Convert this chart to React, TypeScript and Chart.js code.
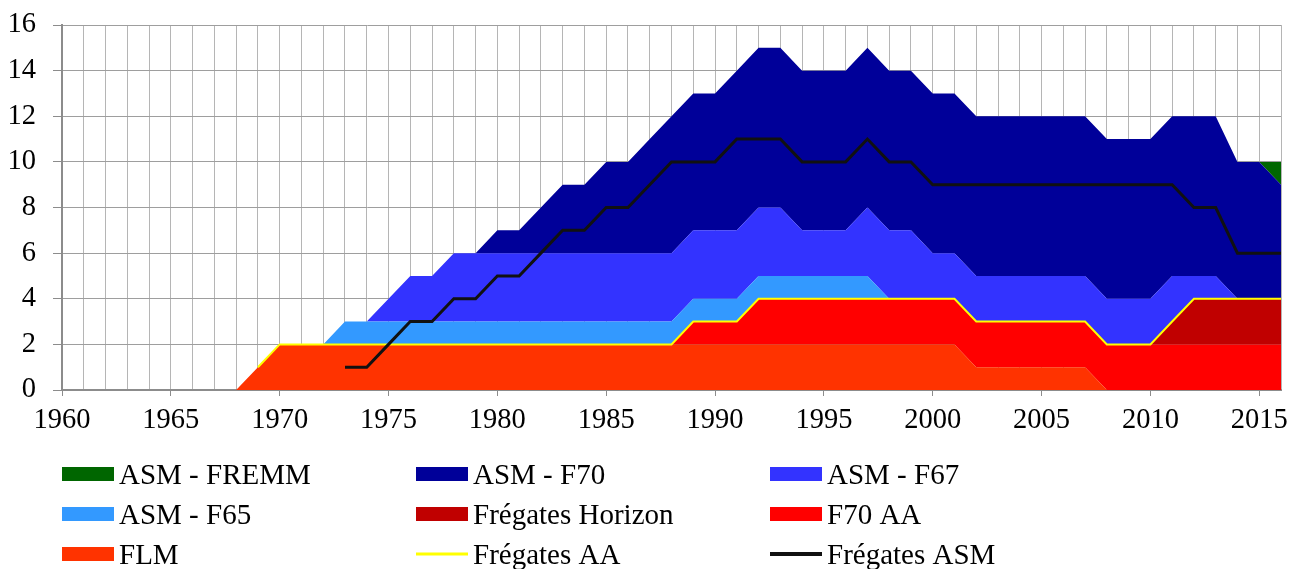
import React, { useEffect, useRef } from 'react';
import { Chart, registerables } from 'chart.js';

Chart.register(...registerables);

const years = [
  '1960', '1961', '1962', '1963', '1964', '1965', '1966', '1967', '1968', '1969',
  '1970', '1971', '1972', '1973', '1974', '1975', '1976', '1977', '1978', '1979',
  '1980', '1981', '1982', '1983', '1984', '1985', '1986', '1987', '1988', '1989',
  '1990', '1991', '1992', '1993', '1994', '1995', '1996', '1997', '1998', '1999',
  '2000', '2001', '2002', '2003', '2004', '2005', '2006', '2007', '2008', '2009',
  '2010', '2011', '2012', '2013', '2014', '2015', '2016',
];

const flm = [
  0, 0, 0, 0, 0, 0, 0, 0, 0, 1,
  2, 2, 2, 2, 2, 2, 2, 2, 2, 2,
  2, 2, 2, 2, 2, 2, 2, 2, 2, 2,
  2, 2, 2, 2, 2, 2, 2, 2, 2, 2,
  2, 2, 1, 1, 1, 1, 1, 1, 0, 0,
  0, 0, 0, 0, 0, 0, 0,
];

const f70AA = [
  0, 0, 0, 0, 0, 0, 0, 0, 0, 0,
  0, 0, 0, 0, 0, 0, 0, 0, 0, 0,
  0, 0, 0, 0, 0, 0, 0, 0, 0, 1,
  1, 1, 2, 2, 2, 2, 2, 2, 2, 2,
  2, 2, 2, 2, 2, 2, 2, 2, 2, 2,
  2, 2, 2, 2, 2, 2, 2,
];

const horizon = [
  0, 0, 0, 0, 0, 0, 0, 0, 0, 0,
  0, 0, 0, 0, 0, 0, 0, 0, 0, 0,
  0, 0, 0, 0, 0, 0, 0, 0, 0, 0,
  0, 0, 0, 0, 0, 0, 0, 0, 0, 0,
  0, 0, 0, 0, 0, 0, 0, 0, 0, 0,
  0, 1, 2, 2, 2, 2, 2,
];

const asmF65 = [
  0, 0, 0, 0, 0, 0, 0, 0, 0, 0,
  0, 0, 0, 1, 1, 1, 1, 1, 1, 1,
  1, 1, 1, 1, 1, 1, 1, 1, 1, 1,
  1, 1, 1, 1, 1, 1, 1, 1, 0, 0,
  0, 0, 0, 0, 0, 0, 0, 0, 0, 0,
  0, 0, 0, 0, 0, 0, 0,
];

const asmF67 = [
  0, 0, 0, 0, 0, 0, 0, 0, 0, 0,
  0, 0, 0, 0, 0, 1, 2, 2, 3, 3,
  3, 3, 3, 3, 3, 3, 3, 3, 3, 3,
  3, 3, 3, 3, 2, 2, 2, 3, 3, 3,
  2, 2, 2, 2, 2, 2, 2, 2, 2, 2,
  2, 2, 1, 1, 0, 0, 0,
];

const asmF70 = [
  0, 0, 0, 0, 0, 0, 0, 0, 0, 0,
  0, 0, 0, 0, 0, 0, 0, 0, 0, 0,
  1, 1, 2, 3, 3, 4, 4, 5, 6, 6,
  6, 7, 7, 7, 7, 7, 7, 7, 7, 7,
  7, 7, 7, 7, 7, 7, 7, 7, 7, 7,
  7, 7, 7, 7, 6, 6, 5,
];

const asmFremm = [
  0, 0, 0, 0, 0, 0, 0, 0, 0, 0,
  0, 0, 0, 0, 0, 0, 0, 0, 0, 0,
  0, 0, 0, 0, 0, 0, 0, 0, 0, 0,
  0, 0, 0, 0, 0, 0, 0, 0, 0, 0,
  0, 0, 0, 0, 0, 0, 0, 0, 0, 0,
  0, 0, 0, 0, 0, 0, 1,
];

const fregatesAA = [
  null, null, null, null, null, null, null, null, null, 1,
  2, 2, 2, 2, 2, 2, 2, 2, 2, 2,
  2, 2, 2, 2, 2, 2, 2, 2, 2, 3,
  3, 3, 4, 4, 4, 4, 4, 4, 4, 4,
  4, 4, 3, 3, 3, 3, 3, 3, 2, 2,
  2, 3, 4, 4, 4, 4, 4,
];

const fregatesASM = [
  null, null, null, null, null, null, null, null, null, null,
  null, null, null, 1, 1, 2, 3, 3, 4, 4,
  5, 5, 6, 7, 7, 8, 8, 9, 10, 10,
  10, 11, 11, 11, 10, 10, 10, 11, 10, 10,
  9, 9, 9, 9, 9, 9, 9, 9, 9, 9,
  9, 9, 8, 8, 6, 6, 6,
];

const yTicks = [0, 2, 4, 6, 8, 10, 12, 14, 16];

const legendOrder = [
  'ASM - FREMM', 'ASM - F70', 'ASM - F67',
  'ASM - F65', 'Frégates Horizon', 'F70 AA',
  'FLM', 'Frégates AA', 'Frégates ASM',
];

const FONT = "'Liberation Serif', 'Times New Roman', serif";

const gridLegend = {
  id: 'gridLegend',
  afterDraw(chart: any) {
    const ctx = chart.ctx;
    ctx.save();
    ctx.font = `29px ${FONT}`;
    ctx.textBaseline = 'alphabetic';
    legendOrder.forEach((label, i) => {
      const ds = chart.data.datasets.find((d: any) => d.label === label);
      if (!ds) return;
      const col = i % 3;
      const row = Math.floor(i / 3);
      const x = 62 + col * 354;
      const cy = 474 + row * 40;
      if (ds.isLine) {
        ctx.strokeStyle = ds.borderColor;
        ctx.lineWidth = ds.borderWidth + 1;
        ctx.beginPath();
        ctx.moveTo(x, cy);
        ctx.lineTo(x + 52, cy);
        ctx.stroke();
      } else {
        ctx.fillStyle = ds.backgroundColor;
        ctx.fillRect(x, cy - 7, 52, 14);
      }
      ctx.fillStyle = '#000';
      ctx.fillText(label, x + 57, cy + 10);
    });
    ctx.restore();
  },
};

function area(label: string, data: number[], color: string, fill: any) {
  return {
    label,
    data,
    backgroundColor: color,
    borderColor: color,
    borderWidth: 0,
    pointRadius: 0,
    tension: 0,
    fill,
    stack: 'areas',
  };
}

export default function App() {
  const ref = useRef<HTMLCanvasElement | null>(null);

  useEffect(() => {
    if (!ref.current) return;
    const chart = new Chart(ref.current, {
      type: 'line',
      data: {
        labels: years,
        datasets: [
          {
            label: 'Frégates ASM',
            data: fregatesASM,
            borderColor: '#111111',
            backgroundColor: '#111111',
            borderWidth: 3,
            pointRadius: 0,
            tension: 0,
            fill: false,
            stack: 'asmLine',
            isLine: true,
          } as any,
          {
            label: 'Frégates AA',
            data: fregatesAA,
            borderColor: '#FFFF00',
            backgroundColor: '#FFFF00',
            borderWidth: 2,
            pointRadius: 0,
            tension: 0,
            fill: false,
            stack: 'aaLine',
            isLine: true,
          } as any,
          area('FLM', flm, '#FF3300', 'origin'),
          area('F70 AA', f70AA, '#FF0000', '-1'),
          area('Frégates Horizon', horizon, '#C00000', '-1'),
          area('ASM - F65', asmF65, '#3399FF', '-1'),
          area('ASM - F67', asmF67, '#3333FF', '-1'),
          area('ASM - F70', asmF70, '#000099', '-1'),
          area('ASM - FREMM', asmFremm, '#006600', '-1'),
        ] as any,
      },
      options: {
        animation: false,
        responsive: true,
        maintainAspectRatio: false,
        layout: { padding: { left: 0, right: 17, top: 25, bottom: 130 } },
        plugins: {
          legend: { display: false },
          tooltip: { enabled: false },
        },
        scales: {
          x: {
            type: 'category',
            offset: false,
            grid: {
              color: '#B5B5B5',
              lineWidth: 1,
              drawTicks: true,
              tickLength: 6,
              tickColor: (c: any) => {
                const lab = years[c.index];
                return lab && Number(lab) % 5 === 0 ? '#8C8C8C' : 'rgba(0,0,0,0)';
              },
            },
            border: { color: '#8C8C8C', width: 2 },
            ticks: {
              autoSkip: false,
              maxRotation: 0,
              minRotation: 0,
              padding: 7,
              color: '#000',
              font: { family: FONT, size: 28.5 },
              callback: (_v: any, i: number) => (Number(years[i]) % 5 === 0 ? years[i] : ''),
            },
            afterFit: (s: any) => {
              s.height = 49;
            },
          },
          y: {
            stacked: true,
            min: 0,
            max: 16,
            afterBuildTicks: (s: any) => {
              s.ticks = yTicks.map((v) => ({ value: v }));
            },
            grid: {
              color: '#9E9E9E',
              lineWidth: 1,
              tickLength: 9,
              tickColor: '#8C8C8C',
            },
            border: { color: '#8C8C8C', width: 2 },
            ticks: {
              padding: 17,
              color: '#000',
              font: { family: FONT, size: 28.5 },
            },
            afterFit: (s: any) => {
              s.width = 62;
              s.paddingTop = 0;
              s.paddingBottom = 0;
            },
          },
        },
      } as any,
      plugins: [gridLegend],
    });
    return () => chart.destroy();
  }, []);

  return (
    <div style={{ position: 'fixed', left: 0, top: 0, width: 1298, height: 569, background: '#fff' }}>
      <canvas ref={ref} />
    </div>
  );
}
